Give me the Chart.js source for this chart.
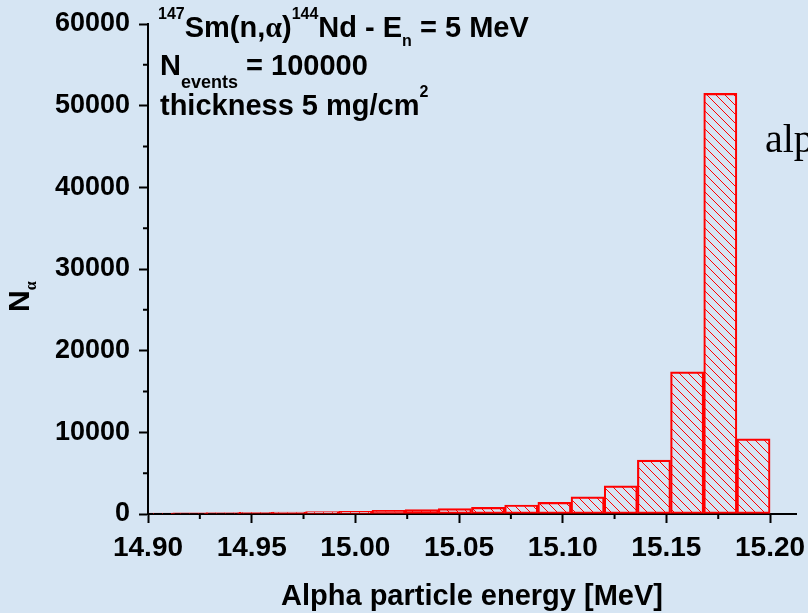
<!DOCTYPE html>
<html>
<head>
<meta charset="utf-8">
<script src="https://cdn.jsdelivr.net/npm/chart.js@4.4.1/dist/chart.umd.min.js"></script>
<style>
  html, body { margin: 0; padding: 0; background: #d6e5f3; }
  #c { display: block; }
</style>
</head>
<body>
<canvas id="c" width="808" height="613"></canvas>
<script>
// histogram of alpha energies, bins 0.016 MeV wide (centres)
const binCenters = [14.904, 14.920, 14.936, 14.952, 14.968, 14.984, 15.000, 15.016, 15.032, 15.048,
                    15.064, 15.080, 15.096, 15.112, 15.128, 15.144, 15.160, 15.176, 15.192];
const counts = [100, 130, 160, 200, 240, 290, 330, 450, 530, 650,
                820, 1100, 1430, 2100, 3450, 6600, 17400, 51500, 9200];

const xMajor = [14.90, 14.95, 15.00, 15.05, 15.10, 15.15, 15.20];
const yMajor = [0, 10000, 20000, 30000, 40000, 50000, 60000];

const SANS = '"Liberation Sans", Arial, sans-serif';
const SERIF = '"Liberation Serif", "Times New Roman", serif';

// red "\\\" hatching used for the bars
function hatch() {
    const s = 9;
    const c = document.createElement('canvas');
    c.width = s; c.height = s;
    const g = c.getContext('2d');
    g.strokeStyle = '#ff0000';
    g.lineWidth = 1;
    g.beginPath();
    for (let k = -1; k <= 1; k++) {
        g.moveTo(-1, -1 + k * s);
        g.lineTo(s + 1, s + 1 + k * s);
    }
    g.stroke();
    return g.createPattern(c, 'repeat');
}

// majors plus one minor tick halfway between them
function withMinors(majors) {
    const t = [];
    majors.forEach((v, i) => {
        t.push({ value: v, major: true });
        if (i < majors.length - 1) t.push({ value: (v + majors[i + 1]) / 2, major: false });
    });
    return t;
}

// write a line made of pieces with their own size / baseline shift
function runs(ctx, x, y, parts) {
    parts.forEach(p => {
        ctx.font = 'bold ' + p.size + 'px ' + (p.family || SANS);
        ctx.fillText(p.text, x, y + (p.dy || 0));
        x += ctx.measureText(p.text).width;
    });
}

const extras = {
    id: 'extras',
    afterDraw(chart) {
        const { ctx, chartArea: a, scales: { x, y } } = chart;
        ctx.save();

        // short minor ticks
        ctx.strokeStyle = '#000';
        ctx.lineWidth = 2;
        ctx.beginPath();
        x.ticks.forEach(t => {
            if (t.major) return;
            const px = x.getPixelForValue(t.value);
            ctx.moveTo(px, a.bottom);
            ctx.lineTo(px, a.bottom + 5);
        });
        y.ticks.forEach(t => {
            if (t.major) return;
            const py = y.getPixelForValue(t.value);
            ctx.moveTo(a.left, py);
            ctx.lineTo(a.left - 5, py);
        });
        ctx.stroke();

        ctx.fillStyle = '#000';
        ctx.textAlign = 'left';
        ctx.textBaseline = 'alphabetic';

        // notes in the top left
        runs(ctx, 158, 37, [
            { text: '147', size: 16, dy: -18 },
            { text: 'Sm(n,', size: 29 },
            { text: '\u03b1', size: 30, family: SERIF },
            { text: ')', size: 29 },
            { text: '144', size: 16, dy: -18 },
            { text: 'Nd - E', size: 29 },
            { text: 'n', size: 16, dy: 9 },
            { text: ' = 5 MeV', size: 29 }
        ]);
        runs(ctx, 160, 75, [
            { text: 'N', size: 29 },
            { text: 'events', size: 18, dy: 13 },
            { text: ' = 100000', size: 29 }
        ]);
        runs(ctx, 160, 115, [
            { text: 'thickness 5 mg/cm', size: 29 },
            { text: '2', size: 16, dy: -18 }
        ]);

        // x axis title
        ctx.font = 'bold 29px ' + SANS;
        ctx.textAlign = 'center';
        ctx.fillText('Alpha particle energy [MeV]', (a.left + a.right) / 2, 605);

        // y axis title, rotated
        ctx.save();
        ctx.translate(29, 312);
        ctx.rotate(-Math.PI / 2);
        ctx.textAlign = 'left';
        runs(ctx, 0, 0, [
            { text: 'N', size: 30 },
            { text: '\u03b1', size: 16, dy: 7, family: SERIF }
        ]);
        ctx.restore();

        // cut-off slide text on the right
        ctx.font = '40px ' + SERIF;
        ctx.textAlign = 'left';
        ctx.fillText('alpha', 765, 152);

        ctx.restore();
    }
};

const tickColor = c => (c.tick && c.tick.major ? '#000' : 'rgba(0,0,0,0)');

new Chart(document.getElementById('c'), {
    type: 'bar',
    data: {
        datasets: [{
            data: binCenters.map((v, i) => ({ x: v, y: counts[i] })),
            backgroundColor: hatch(),
            borderColor: '#ff0000',
            borderWidth: 1.5,
            borderSkipped: false,
            barPercentage: 1,
            categoryPercentage: 1
        }]
    },
    options: {
        responsive: false,
        animation: false,
        devicePixelRatio: 1,
        layout: { padding: { top: 24, right: 12, left: 0, bottom: 0 } },
        plugins: { legend: { display: false }, tooltip: { enabled: false } },
        scales: {
            x: {
                type: 'linear',
                offset: false,
                min: 14.9,
                max: 15.2125,
                afterBuildTicks: s => { s.ticks = withMinors(xMajor); },
                afterFit: s => { s.height = 99; s.paddingLeft = 0; s.paddingRight = 0; },
                grid: { offset: false, drawOnChartArea: false, tickLength: 9, tickWidth: 2, tickColor: tickColor },
                border: { color: '#000', width: 2 },
                ticks: {
                    autoSkip: false,
                    maxRotation: 0,
                    padding: 8,
                    color: '#000',
                    font: { family: SANS, weight: 'bold', size: 28 },
                    callback: (v, i, t) => (t[i].major ? v.toFixed(2) : '')
                }
            },
            y: {
                min: 0,
                max: 60000,
                afterBuildTicks: s => { s.ticks = withMinors(yMajor); },
                afterFit: s => { s.width = 148; s.paddingTop = 0; s.paddingBottom = 0; },
                grid: { drawOnChartArea: false, tickLength: 9, tickWidth: 2, tickColor: tickColor },
                border: { color: '#000', width: 2 },
                ticks: {
                    autoSkip: false,
                    padding: 9,
                    color: '#000',
                    font: { family: SANS, weight: 'bold', size: 27 },
                    callback: (v, i, t) => (t[i].major ? String(v) : '')
                }
            }
        }
    },
    plugins: [extras]
});
</script>
</body>
</html>
